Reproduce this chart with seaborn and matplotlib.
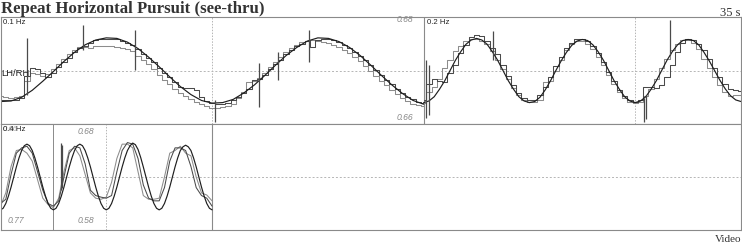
import numpy as np
import pandas as pd
import matplotlib
matplotlib.use("Agg")
import matplotlib.pyplot as plt
import matplotlib.transforms as mtransforms
import seaborn as sns

# ---------------- data ----------------
# 0.1 Hz panel: time 0..20 s
stim1_step = 0.5
stim1 = [-0.58, -0.57, -0.50, -0.37, -0.20, -0.02, 0.17, 0.34, 0.48, 0.57,
         0.61, 0.60, 0.53, 0.41, 0.25, 0.07, -0.12, -0.30, -0.45, -0.56,
         -0.61, -0.60, -0.54, -0.42, -0.27, -0.09, 0.10, 0.28, 0.43, 0.55,
         0.61, 0.60, 0.54, 0.43, 0.28, 0.10, -0.09, -0.27, -0.43, -0.56, -0.63]
eye1_step = 0.25
eye1_a = [-0.55, -0.55, -0.56, -0.55, -0.52, -0.10, 0.04, 0.03, -0.05, -0.12,
          -0.04, 0.06, 0.16, 0.24, 0.34, 0.42, 0.46, 0.52, 0.57, 0.59,
          0.59, 0.59, 0.58, 0.56, 0.52, 0.47, 0.40, 0.31, 0.24, 0.15,
          0.05, -0.04, -0.13, -0.22, -0.30, -0.33, -0.33, -0.36, -0.50, -0.57,
          -0.60, -0.62, -0.62, -0.60, -0.55, -0.50, -0.42, -0.35, -0.18, -0.16,
          -0.08, 0.02, 0.12, 0.20, 0.30, 0.38, 0.45, 0.50, 0.55, 0.44,
          0.57, 0.59, 0.59, 0.57, 0.53, 0.48, 0.42, 0.35, 0.27, 0.19,
          0.10, 0.01, -0.08, -0.17, -0.26, -0.34, -0.42, -0.49, -0.54, -0.58, -0.60]
eye1_b = [-0.48, -0.50, -0.52, -0.50, -0.47, -0.20, -0.05, -0.06, -0.10, -0.06,
          0.02, 0.12, 0.22, 0.30, 0.38, 0.44, 0.44, 0.42, 0.45, 0.46,
          0.46, 0.45, 0.44, 0.42, 0.40, 0.36, 0.28, 0.20, 0.12, 0.02,
          -0.08, -0.17, -0.26, -0.34, -0.42, -0.48, -0.54, -0.58, -0.62, -0.66,
          -0.70, -0.70, -0.69, -0.66, -0.62, -0.52, -0.40, -0.22, -0.20, -0.14,
          -0.04, 0.06, 0.16, 0.26, 0.34, 0.42, 0.48, 0.53, 0.56, 0.57,
          0.56, 0.54, 0.52, 0.48, 0.44, 0.38, 0.32, 0.25, 0.17, 0.08,
          -0.01, -0.10, -0.19, -0.28, -0.36, -0.44, -0.51, -0.57, -0.62, -0.65, -0.66]

# 0.2 Hz panel: time 20..35 s
stim2_step = 0.25
stim2 = [-0.60, -0.57, -0.49, -0.35, -0.19, 0.00, 0.19, 0.35, 0.49, 0.57,
         0.60, 0.57, 0.49, 0.35, 0.19, 0.00, -0.19, -0.35, -0.49, -0.57,
         -0.60, -0.58, -0.50, -0.36, -0.19, 0.00, 0.18, 0.34, 0.47, 0.55,
         0.58, 0.56, 0.48, 0.35, 0.19, 0.00, -0.19, -0.35, -0.49, -0.57,
         -0.60, -0.57, -0.49, -0.35, -0.19, 0.00, 0.19, 0.35, 0.48, 0.56,
         0.58, 0.56, 0.48, 0.34, 0.18, 0.00, -0.18, -0.34, -0.47, -0.55, -0.58]
eye2_a = [-0.55, -0.25, -0.15, -0.20, -0.22, -0.05, 0.10, 0.32, 0.48, 0.62,
          0.66, 0.64, 0.55, 0.42, 0.30, 0.10, -0.10, -0.28, -0.42, -0.52,
          -0.56, -0.56, -0.45, -0.30, -0.12, 0.08, 0.26, 0.42, 0.52, 0.58,
          0.59, 0.55, 0.46, 0.32, 0.16, -0.02, -0.20, -0.36, -0.48, -0.56,
          -0.58, -0.55, -0.30, -0.30, -0.33, -0.28, -0.12, 0.10, 0.35, 0.52,
          0.58, 0.57, 0.50, 0.38, 0.22, 0.05, -0.12, -0.25, -0.35, -0.37, -0.38]
eye2_b = [-0.60, -0.40, -0.30, -0.15, 0.05, 0.20, 0.36, 0.46, 0.55, 0.58,
          0.58, 0.55, 0.50, 0.36, 0.20, 0.02, -0.16, -0.32, -0.46, -0.55,
          -0.58, -0.58, -0.56, -0.22, -0.20, 0.00, 0.20, 0.38, 0.50, 0.56,
          0.55, 0.50, 0.40, 0.26, 0.10, -0.08, -0.26, -0.40, -0.52, -0.58,
          -0.60, -0.58, -0.48, -0.34, -0.15, 0.05, 0.22, 0.38, 0.50, 0.57,
          0.57, 0.52, 0.40, 0.22, 0.05, -0.12, -0.28, -0.40, -0.48, -0.46, -0.46]

# 0.4 Hz panel: time 0..10 s
stim3_step = 0.125
stim3 = [-0.62, -0.59, -0.50, -0.36, -0.19, 0.00, 0.19, 0.36, 0.50, 0.59,
         0.62, 0.59, 0.50, 0.36, 0.19, 0.00, -0.19, -0.36, -0.50, -0.59,
         -0.62, -0.59, -0.50, -0.36, -0.19, 0.00, 0.19, 0.36, 0.50, 0.59,
         0.62, 0.59, 0.50, 0.36, 0.19, 0.00, -0.19, -0.36, -0.50, -0.59,
         -0.62, -0.59, -0.50, -0.36, -0.19, 0.00, 0.19, 0.36, 0.50, 0.59,
         0.64, 0.61, 0.52, 0.37, 0.19, 0.00, -0.19, -0.36, -0.50, -0.59,
         -0.62, -0.59, -0.50, -0.36, -0.19, 0.00, 0.19, 0.36, 0.50, 0.57,
         0.60, 0.57, 0.50, 0.36, 0.19, 0.00, -0.19, -0.36, -0.50, -0.59, -0.62]
eye3_step = 0.25
eye3_a = [-0.50, -0.42, 0.05, 0.45, 0.55, 0.58, 0.45, 0.10, -0.25, -0.50, -0.55,
          -0.45, 0.00, 0.45, 0.58, 0.55, 0.25, -0.25, -0.35, -0.38, -0.40,
          -0.35, 0.10, 0.50, 0.65, 0.62, 0.35, -0.15, -0.40, -0.45, -0.45,
          -0.20, 0.30, 0.55, 0.55, 0.50, 0.20, -0.20, -0.35, -0.40, -0.55]
eye3_b = [-0.55, -0.30, 0.20, 0.50, 0.52, 0.45, 0.30, -0.05, -0.40, -0.52, -0.58,
          -0.40, 0.10, 0.50, 0.55, 0.40, 0.05, -0.30, -0.40, -0.42, -0.38,
          -0.10, 0.35, 0.62, 0.62, 0.55, 0.10, -0.35, -0.42, -0.42, -0.40,
          0.00, 0.45, 0.50, 0.58, 0.45, 0.40, 0.00, -0.30, -0.34, -0.45]

# blink / saccade spikes: time (s), low, high
spikes_top_t = [1.23, 3.92, 6.38, 10.16, 12.20, 13.10, 14.60, 20.10, 20.24, 23.30, 30.40, 30.50, 31.65]
spikes_top_lo = [-0.46, 0.38, 0.01, -0.96, -0.68, -0.18, 0.16, -0.89, -0.83, 0.20, -0.96, -0.90, 0.29]
spikes_top_hi = [0.61, 0.85, 0.76, -0.55, 0.14, 0.35, 0.76, 0.20, 0.10, 0.74, -0.51, -0.45, 0.94]
spikes_bot_t = [2.84, 2.93]
spikes_bot_lo = [-0.25, -0.20]
spikes_bot_hi = [0.64, 0.60]

panel_labels = ["0.1 Hz", "0.2 Hz", "0.4 Hz"]
gain_labels_top = ["0.68", "0.66"]
gain_labels_bot = ["0.68", "0.77", "0.58", "0.66"]


def frame(values, start, step, name):
    return pd.DataFrame({"t": start + step * np.arange(len(values)), "y": values, "s": name})


# ---------------- figure ----------------
sns.set_style("white")
plt.rcParams["font.family"] = ["Liberation Sans", "DejaVu Sans"]

fig = plt.figure(figsize=(7.42, 2.44), dpi=100)
W, H = 742.0, 244.0
ax_top = fig.add_axes([0.5 / W, (H - 124) / H, 740.5 / W, 107 / H])
ax_bot = fig.add_axes([0.5 / W, (H - 230) / H, 740.5 / W, 106 / H])

FRAME = "#8a8a8a"
GRID = "#b5b5b5"
STIM = "#1e1e1e"
EYE_A = "#4a4a4a"
EYE_B = "#8c8c8c"

for ax in (ax_top, ax_bot):
    ax.set_xlim(0, 35)
    ax.set_ylim(-1, 1)
    ax.set_xticks([])
    ax.set_yticks([])
    for sp in ax.spines.values():
        sp.set_color(FRAME)
        sp.set_linewidth(0.8)
    ax.axhline(0, color=GRID, lw=0.7, ls=(0, (2, 2)), zorder=0)
    ax.set_facecolor("white")

# panel separators
ax_top.axvline(20, color=FRAME, lw=0.8)
ax_top.axvline(10, color=GRID, lw=0.7, ls=(0, (1.5, 1.5)), zorder=0)
ax_top.axvline(30, color=GRID, lw=0.7, ls=(0, (1.5, 1.5)), zorder=0)
ax_bot.axvline(10, color=FRAME, lw=0.8)
ax_bot.axvline(2.5, color=FRAME, lw=0.7)
ax_bot.axvline(5.0, color=GRID, lw=0.7, ls=(0, (1.5, 1.5)), zorder=0)

# traces, top row
d = frame(eye1_b, 0, eye1_step, "RH")
sns.lineplot(data=d, x="t", y="y", ax=ax_top, color=EYE_B, lw=0.75, estimator=None, sort=False, drawstyle="steps-mid", legend=False)
d = frame(eye1_a, 0, eye1_step, "LH")
sns.lineplot(data=d, x="t", y="y", ax=ax_top, color=EYE_A, lw=0.75, estimator=None, sort=False, drawstyle="steps-mid", legend=False)
d = frame(stim1, 0, stim1_step, "stim")
sns.lineplot(data=d, x="t", y="y", ax=ax_top, color=STIM, lw=0.85, estimator=None, sort=False, legend=False)

d = frame(eye2_b, 20, stim2_step, "RH")
sns.lineplot(data=d, x="t", y="y", ax=ax_top, color=EYE_B, lw=0.75, estimator=None, sort=False, drawstyle="steps-mid", legend=False)
d = frame(eye2_a, 20, stim2_step, "LH")
sns.lineplot(data=d, x="t", y="y", ax=ax_top, color=EYE_A, lw=0.75, estimator=None, sort=False, drawstyle="steps-mid", legend=False)
d = frame(stim2, 20, stim2_step, "stim")
sns.lineplot(data=d, x="t", y="y", ax=ax_top, color=STIM, lw=0.85, estimator=None, sort=False, legend=False)

ax_top.vlines(spikes_top_t, spikes_top_lo, spikes_top_hi, color=EYE_A, lw=0.9)

# traces, bottom row
d = frame(eye3_b, 0, eye3_step, "RH")
sns.lineplot(data=d, x="t", y="y", ax=ax_bot, color=EYE_B, lw=0.75, estimator=None, sort=False, legend=False)
d = frame(eye3_a, 0, eye3_step, "LH")
sns.lineplot(data=d, x="t", y="y", ax=ax_bot, color=EYE_A, lw=0.75, estimator=None, sort=False, legend=False)
d = frame(stim3, 0, stim3_step, "stim")
sns.lineplot(data=d, x="t", y="y", ax=ax_bot, color=STIM, lw=0.85, estimator=None, sort=False, legend=False)
ax_bot.vlines(spikes_bot_t, spikes_bot_lo, spikes_bot_hi, color=EYE_A, lw=0.9)

for ax in (ax_top, ax_bot):
    ax.set_xlabel("")
    ax.set_ylabel("")

# ---------------- text ----------------
tt = mtransforms.blended_transform_factory(ax_top.transData, ax_top.transAxes)
tb = mtransforms.blended_transform_factory(ax_bot.transData, ax_bot.transAxes)

ax_top.text(0.1, 0.98, panel_labels[0], transform=tt, ha="left", va="top", fontsize=5.6, color="#222")
ax_top.text(20.15, 0.98, panel_labels[1], transform=tt, ha="left", va="top", fontsize=5.6, color="#222")
ax_bot.text(0.1, 0.98, gain_labels_bot[3], transform=tb, ha="left", va="top", fontsize=5.6, color="#aaa", style="italic")
ax_bot.text(0.1, 0.98, panel_labels[2], transform=tb, ha="left", va="top", fontsize=5.6, color="#222")
ax_top.text(0.05, -0.05, "LH/RH", ha="left", va="center", fontsize=6.8, color="#222")

gk = dict(ha="right", va="center", fontsize=6.2, color="#8a8a8a", style="italic")
ax_top.text(19.5, 0.98, gain_labels_top[0], transform=tt, **gk)
ax_top.text(19.5, 0.06, gain_labels_top[1], transform=tt, **gk)
ax_bot.text(4.45, 0.93, gain_labels_bot[0], transform=tb, **gk)
ax_bot.text(1.1, 0.085, gain_labels_bot[1], transform=tb, **gk)
ax_bot.text(4.45, 0.085, gain_labels_bot[2], transform=tb, **gk)

fig.text(1 / W, 1 - 1 / H, "Repeat Horizontal Pursuit (see-thru)", ha="left", va="top",
         fontsize=12.1, fontweight="bold", family="Liberation Serif", color="#333")
fig.text(741 / W, 1 - 15.5 / H, "35 s", ha="right", va="baseline", fontsize=9, family="Liberation Serif", color="#333")
fig.text(741 / W, 1 - 242 / H, "Video", ha="right", va="baseline", fontsize=8, family="Liberation Serif", color="#333")

fig.savefig("out.png", dpi=100, facecolor="white")
